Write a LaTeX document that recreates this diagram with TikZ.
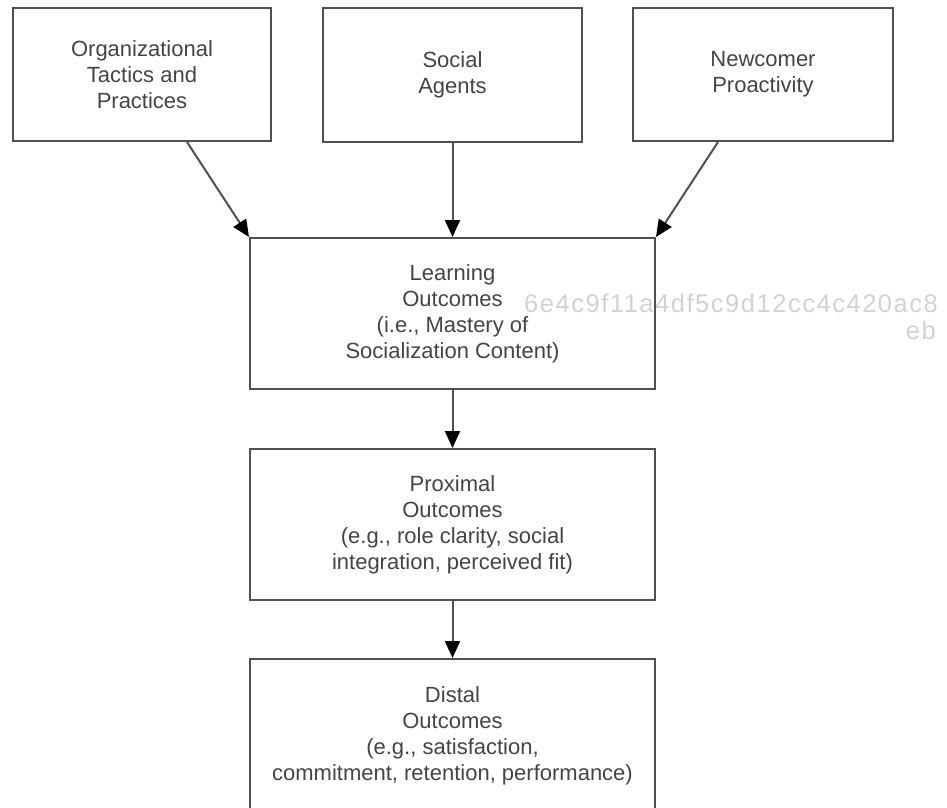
\documentclass[tikz,border=0pt]{standalone}
\usepackage{fontspec}
\setmainfont{Liberation Sans}
\newfontfamily\wmfont[LetterSpace=6]{Liberation Sans}
\usetikzlibrary{arrows.meta,calc}
\definecolor{linegray}{HTML}{505050}
\definecolor{textgray}{HTML}{444444}
\definecolor{wmgray}{HTML}{D2D2D2}
\begin{document}
\begin{tikzpicture}[x=1pt,y=-1pt,
  box/.style={draw=linegray,line width=2pt,rectangle,align=center,inner sep=0pt,
    text=textgray,font=\fontsize{22}{26}\selectfont},
  conn/.style={draw=linegray,line width=2pt,-{Triangle[length=17pt,width=15pt,color=black]}},
  wm/.style={text=wmgray,font=\wmfont\fontsize{25.5}{28}\selectfont,inner sep=0pt}]
\useasboundingbox (0,0) rectangle (947,807);
\clip (0,0) rectangle (947,807);
% watermark
\node[wm,anchor=west] (wm1) at (524,303) {6e4c9f11a4df5c9d12cc4c420ac8};
\node[wm,anchor=east] (wm2) at (936,330) {eb};
% top boxes
\node[box,minimum width=258pt,minimum height=133pt] (org) at (142,74.5) {Organizational\\Tactics and\\Practices};
\node[box,minimum width=259pt,minimum height=134pt] (soc) at (452.5,75) {Social\\Agents};
\node[box,minimum width=260pt,minimum height=133pt] (new) at (763,74.5) {Newcomer\\Proactivity};
% chain
\node[box,minimum width=405pt,minimum height=151pt] (learn) at (452.5,313.5) {Learning\\Outcomes\\(i.e., Mastery of\\Socialization Content)};
\node[box,minimum width=405pt,minimum height=151pt] (prox) at (452.5,524.5) {Proximal\\Outcomes\\(e.g., role clarity, social\\integration, perceived fit)};
\node[box,minimum width=405pt,minimum height=154pt] (dist) at (452.5,736) {Distal\\Outcomes\\(e.g., satisfaction,\\commitment, retention, performance)};
% connectors
\draw[conn] ([xshift=45pt]org.south) -- (learn.north west);
\draw[conn] (soc.south) -- (learn.north);
\draw[conn] ([xshift=-45pt]new.south) -- (learn.north east);
\draw[conn] (learn.south) -- (prox.north);
\draw[conn] (prox.south) -- (dist.north);
\end{tikzpicture}
\end{document}
